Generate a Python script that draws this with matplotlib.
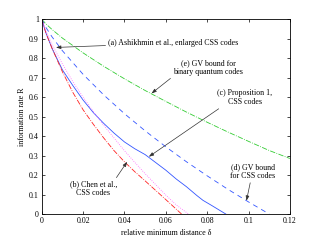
import matplotlib
matplotlib.use("Agg")
import matplotlib.pyplot as plt

plt.rcParams['font.family'] = ['Liberation Serif', 'DejaVu Serif']
plt.rcParams['mathtext.fontset'] = 'stix'

# (e) GV bound for binary quantum codes
d_e = [0, 0.002, 0.005, 0.01, 0.02, 0.03, 0.04, 0.05, 0.06, 0.07, 0.08, 0.09, 0.10, 0.11, 0.12]
r_e = [1, 0.976, 0.947, 0.903, 0.827, 0.758, 0.694, 0.634, 0.578, 0.523, 0.471, 0.421, 0.373, 0.326, 0.285]
# (d) GV bound for CSS codes
d_d = [0, 0.002, 0.005, 0.01, 0.02, 0.03, 0.04, 0.05, 0.06, 0.07, 0.08, 0.09, 0.10, 0.11]
r_d = [1, 0.958, 0.909, 0.838, 0.717, 0.611, 0.515, 0.427, 0.345, 0.268, 0.196, 0.127, 0.062, 0.0]
# (c) Proposition 1, CSS codes
d_c = [0, 0.002, 0.005, 0.01, 0.015, 0.02, 0.025, 0.03, 0.035, 0.04, 0.045, 0.05, 0.055,
       0.06, 0.065, 0.07, 0.075, 0.078, 0.082, 0.089]
r_c = [1, 0.93, 0.85, 0.74, 0.66, 0.585, 0.52, 0.465, 0.415, 0.37, 0.335, 0.305, 0.265,
       0.225, 0.18, 0.14, 0.095, 0.07, 0.045, 0.0]
# (b) Chen et al., CSS codes
d_b = [0, 0.002, 0.005, 0.01, 0.015, 0.02, 0.025, 0.03, 0.035, 0.04, 0.045, 0.05, 0.055,
       0.06, 0.0676]
r_b = [1, 0.93, 0.85, 0.73, 0.625, 0.535, 0.46, 0.39, 0.325, 0.268, 0.217, 0.17, 0.122,
       0.074, 0.0]
# (a) Ashikhmin et al., enlarged CSS codes
d_a = [0, 0.002, 0.005, 0.01, 0.015, 0.02, 0.025, 0.03, 0.035, 0.04, 0.045, 0.05, 0.055,
       0.06, 0.065, 0.071]
r_a = [1, 0.94, 0.87, 0.77, 0.68, 0.60, 0.525, 0.455, 0.39, 0.325, 0.265, 0.207, 0.152,
       0.097, 0.047, 0.0]

x_ticks = [0, 0.02, 0.04, 0.06, 0.08, 0.1, 0.12]
x_ticklabels = ['0', '0.02', '0.04', '0.06', '0.08', '0.1', '0.12']
y_ticks = [0, 0.1, 0.2, 0.3, 0.4, 0.5, 0.6, 0.7, 0.8, 0.9, 1]
y_ticklabels = ['0', '0.1', '0.2', '0.3', '0.4', '0.5', '0.6', '0.7', '0.8', '0.9', '1']

fig = plt.figure(figsize=(3.21, 2.42), dpi=100)
ax = fig.add_axes([0.130, 0.1157, 0.773, 0.805])

lw = 0.6
ax.plot(d_e, r_e, color='#33cc33', linestyle='-.', linewidth=lw)
ax.plot(d_d, r_d, color='#3355ff', linestyle=(0, (6, 5)), linewidth=lw)
ax.plot(d_c, r_c, color='#3355ff', linestyle='-', linewidth=lw)
ax.plot(d_b, r_b, color='#ff2222', linestyle='-.', linewidth=lw)
ax.plot(d_a, r_a, color='#ff66ff', linestyle=':', linewidth=lw)

ax.set_xlim(0, 0.12)
ax.set_ylim(0, 1)
ax.set_xticks(x_ticks)
ax.set_xticklabels(x_ticklabels)
ax.set_yticks(y_ticks)
ax.set_yticklabels(y_ticklabels)
ax.tick_params(direction='in', top=True, right=True, labelsize=5.7, length=2.5,
               width=0.5, pad=2)
for s in ax.spines.values():
    s.set_linewidth(0.6)

ax.set_xlabel('relative minimum distance δ', fontsize=5.7, labelpad=3)
ax.set_ylabel('information rate R', fontsize=5.7, labelpad=2)

fs = 5.7
ap = dict(arrowstyle='-|>,head_length=0.5,head_width=0.18', color='#333333',
          linewidth=0.5, shrinkA=0, shrinkB=0)
ax.annotate('(a) Ashikhmin et al., enlarged CSS codes', xy=(0.0069, 0.855),
            xytext=(0.0322, 0.878), fontsize=fs, ha='left', va='center',
            arrowprops=ap)
ax.annotate('(e) GV bound for\nbinary quantum codes', xy=(0.0531, 0.619),
            xytext=(0.0805, 0.750), fontsize=fs, ha='center', va='center',
            linespacing=1.1, arrowprops=dict(ap, relpos=(0.0, 0.0)))
ax.annotate('(c) Proposition 1,\nCSS codes', xy=(0.0518, 0.294),
            xytext=(0.0982, 0.597), fontsize=fs, ha='center', va='center',
            linespacing=1.1, arrowprops=dict(ap, relpos=(0.1, 0.0)))
ax.annotate('(d) GV bound\nfor CSS codes', xy=(0.0990, 0.068),
            xytext=(0.1022, 0.217), fontsize=fs, ha='center', va='center',
            linespacing=1.1, arrowprops=dict(ap, relpos=(0.45, 0.0)))
ax.annotate('(b) Chen et al.,\nCSS codes', xy=(0.0413, 0.268),
            xytext=(0.0249, 0.130), fontsize=fs, ha='center', va='center',
            linespacing=1.1, arrowprops=dict(ap, relpos=(0.95, 1.0)))

fig.savefig('out.png', dpi=100)
